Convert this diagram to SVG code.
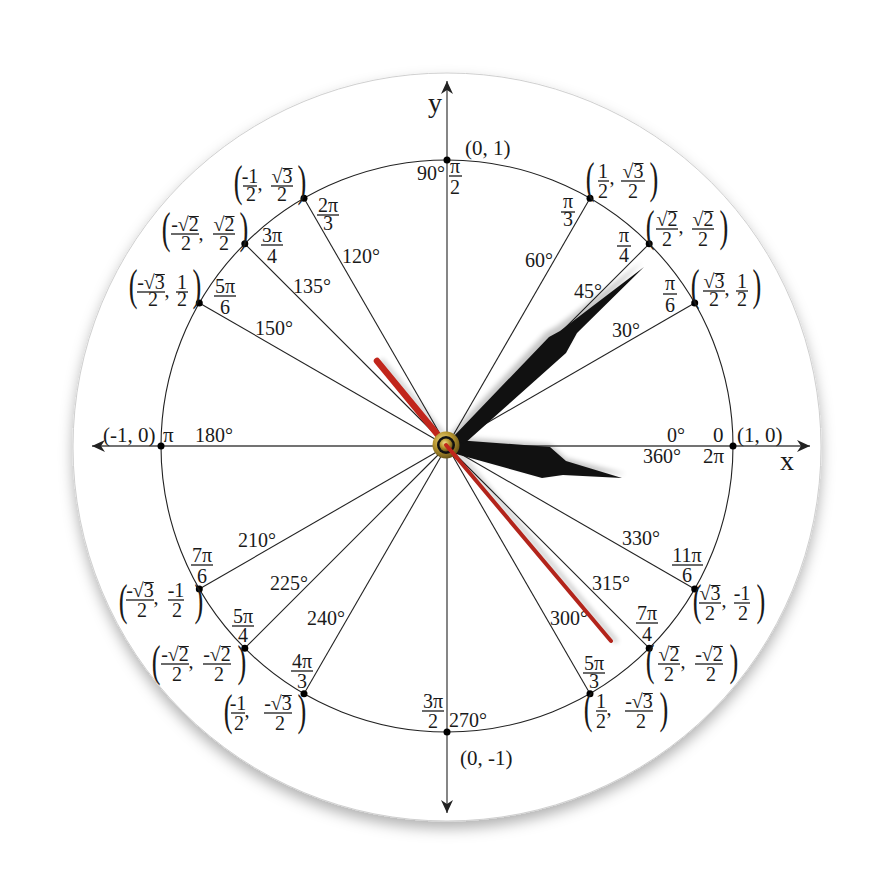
<svg xmlns="http://www.w3.org/2000/svg" width="894" height="894" viewBox="0 0 894 894">
<defs>
<style>
text{font-family:"Liberation Serif","Times New Roman",serif;fill:#1a1a1a}
.d{font-size:20px}
.c{font-size:21px}
.xy{font-size:28px}
.f{font-size:20px;text-anchor:middle}
.p{font-size:44px}
.b{stroke:#1a1a1a;stroke-width:1.3}
.v{stroke:#1a1a1a;stroke-width:1}
.r{stroke:#222;stroke-width:1.1;fill:none}
.ax{stroke:#444;stroke-width:1.3}
.dot{fill:#000}
</style>
<marker id="arr" viewBox="-14 -7 16 14" refX="0" refY="0" markerWidth="16" markerHeight="14" markerUnits="userSpaceOnUse" orient="auto-start-reverse"><path d="M0,0 L-13,-6 L-9,0 L-13,6 Z" fill="#222"/></marker>
<filter id="sh" x="-10%" y="-10%" width="120%" height="125%"><feDropShadow dx="0" dy="7" stdDeviation="7" flood-color="#000" flood-opacity="0.3"/></filter>
<filter id="hs" x="-20%" y="-20%" width="140%" height="140%"><feGaussianBlur stdDeviation="2.5"/></filter>
<radialGradient id="gold" cx="40%" cy="35%" r="70%"><stop offset="0" stop-color="#f1dc8a"/><stop offset="0.5" stop-color="#b8962f"/><stop offset="1" stop-color="#5c4a14"/></radialGradient>
</defs>
<rect width="894" height="894" fill="#fff"/>
<g id="face"><circle cx="447" cy="447" r="374" fill="#fff" stroke="#d0d0d0" stroke-width="1" filter="url(#sh)"/></g>
<g id="connectors">
<circle class="r" cx="447" cy="446" r="286"/>
<line class="r" x1="447" y1="446" x2="694.7" y2="303"/>
<line class="r" x1="447" y1="446" x2="649.2" y2="243.8"/>
<line class="r" x1="447" y1="446" x2="590" y2="198.3"/>
<line class="r" x1="447" y1="446" x2="304" y2="198.3"/>
<line class="r" x1="447" y1="446" x2="244.8" y2="243.8"/>
<line class="r" x1="447" y1="446" x2="199.3" y2="303"/>
<line class="r" x1="447" y1="446" x2="199.3" y2="589"/>
<line class="r" x1="447" y1="446" x2="244.8" y2="648.2"/>
<line class="r" x1="447" y1="446" x2="304" y2="693.7"/>
<line class="r" x1="447" y1="446" x2="590" y2="693.7"/>
<line class="r" x1="447" y1="446" x2="649.2" y2="648.2"/>
<line class="r" x1="447" y1="446" x2="694.7" y2="589"/>
<line class="ax" x1="92" y1="446" x2="810" y2="446" marker-start="url(#arr)" marker-end="url(#arr)"/>
<line class="ax" x1="447" y1="81" x2="447" y2="813" marker-start="url(#arr)" marker-end="url(#arr)"/>
</g>
<g id="axis-labels">
<text class="xy" x="780" y="470">x</text>
<text class="xy" x="428" y="112">y</text>
</g>
<g id="p0">
<circle class="dot" cx="733" cy="446" r="3.5"/>
<text class="d" x="667" y="442">0°</text>
<text class="d" x="643" y="463">360°</text>
<text class="c" x="713" y="442">0</text>
<text class="c" x="703" y="463">2π</text>
<text class="c" x="737" y="442">(1, 0)</text>
</g>
<g id="p30">
<circle class="dot" cx="694.7" cy="303" r="3.5"/>
<text class="d" x="612" y="337">30°</text>
<text class="f" x="670" y="290">π</text><line class="b" x1="663" y1="294" x2="677" y2="294"/><text class="f" x="670" y="312">6</text>
<text class="p" transform="translate(690.7,300) scale(0.6,1)">(</text>
<text class="f" x="714" y="288">√3</text><line class="v" x1="714.5" y1="273.5" x2="724.5" y2="273.5"/><line class="b" x1="703" y1="291" x2="725" y2="291"/><text class="f" x="714" y="306">2</text>
<text class="f" x="727" y="295">,</text>
<text class="f" x="742" y="288">1</text><line class="b" x1="736" y1="291" x2="748" y2="291"/><text class="f" x="742" y="306">2</text>
<text class="p" transform="translate(752.5,300) scale(0.6,1)">)</text>
</g>
<g id="p45">
<circle class="dot" cx="649.2" cy="243.8" r="3.5"/>
<text class="d" x="574" y="298">45°</text>
<text class="f" x="624" y="242">π</text><line class="b" x1="617" y1="246" x2="631" y2="246"/><text class="f" x="624" y="262">4</text>
<text class="p" transform="translate(645.7,241) scale(0.6,1)">(</text>
<text class="f" x="667" y="226">√2</text><line class="v" x1="667.5" y1="211.5" x2="677.5" y2="211.5"/><line class="b" x1="656" y1="229" x2="678" y2="229"/><text class="f" x="667" y="246">2</text>
<text class="f" x="681" y="233">,</text>
<text class="f" x="703" y="226">√2</text><line class="v" x1="703.5" y1="211.5" x2="713.5" y2="211.5"/><line class="b" x1="692" y1="229" x2="714" y2="229"/><text class="f" x="703" y="246">2</text>
<text class="p" transform="translate(719.5,241) scale(0.6,1)">)</text>
</g>
<g id="p60">
<circle class="dot" cx="590" cy="198.3" r="3.5"/>
<text class="d" x="525" y="267">60°</text>
<text class="f" x="568" y="208">π</text><line class="b" x1="561" y1="212" x2="575" y2="212"/><text class="f" x="568" y="226">3</text>
<text class="p" transform="translate(585.7,193) scale(0.6,1)">(</text>
<text class="f" x="603" y="178">1</text><line class="b" x1="598" y1="181" x2="609" y2="181"/><text class="f" x="603" y="198">2</text>
<text class="f" x="612" y="184">,</text>
<text class="f" x="633" y="178">√3</text><line class="v" x1="633.5" y1="163.5" x2="643.5" y2="163.5"/><line class="b" x1="621" y1="181" x2="645" y2="181"/><text class="f" x="633" y="198">2</text>
<text class="p" transform="translate(649.5,193) scale(0.6,1)">)</text>
</g>
<g id="p90">
<circle class="dot" cx="447" cy="160" r="3.5"/>
<text class="d" x="417" y="180">90°</text>
<text class="f" x="455" y="173">π</text><line class="b" x1="449" y1="176" x2="462" y2="176"/><text class="f" x="455" y="194">2</text>
<text class="c" x="465" y="155">(0, 1)</text>
</g>
<g id="p120">
<circle class="dot" cx="304" cy="198.3" r="3.5"/>
<text class="d" x="342" y="263">120°</text>
<text class="f" x="328" y="212">2π</text><line class="b" x1="317" y1="215" x2="339" y2="215"/><text class="f" x="328" y="230">3</text>
<text class="p" transform="translate(233.7,196) scale(0.6,1)">(</text>
<text class="f" x="250" y="183">-1</text><line class="b" x1="243" y1="186" x2="257" y2="186"/><text class="f" x="251" y="201">2</text>
<text class="f" x="260" y="190">,</text>
<text class="f" x="282" y="183">√3</text><line class="v" x1="282.5" y1="168.5" x2="292.5" y2="168.5"/><line class="b" x1="271" y1="186" x2="293" y2="186"/><text class="f" x="282" y="201">2</text>
<text class="p" transform="translate(297.5,196) scale(0.6,1)">)</text>
</g>
<g id="p135">
<circle class="dot" cx="244.8" cy="243.8" r="3.5"/>
<text class="d" x="293" y="293">135°</text>
<text class="f" x="272" y="242">3π</text><line class="b" x1="261" y1="245" x2="283" y2="245"/><text class="f" x="272" y="263">4</text>
<text class="p" transform="translate(161.7,243) scale(0.6,1)">(</text>
<text class="f" x="185" y="231">-√2</text><line class="v" x1="188.8" y1="216.5" x2="198.8" y2="216.5"/><line class="b" x1="171" y1="234" x2="199" y2="234"/><text class="f" x="186" y="250">2</text>
<text class="f" x="201" y="240">,</text>
<text class="f" x="224" y="231">√2</text><line class="v" x1="224.5" y1="216.5" x2="234.5" y2="216.5"/><line class="b" x1="213" y1="234" x2="235" y2="234"/><text class="f" x="224" y="250">2</text>
<text class="p" transform="translate(239.5,243) scale(0.6,1)">)</text>
</g>
<g id="p150">
<circle class="dot" cx="199.3" cy="303" r="3.5"/>
<text class="d" x="255" y="335">150°</text>
<text class="f" x="225" y="293">5π</text><line class="b" x1="214" y1="296" x2="236" y2="296"/><text class="f" x="225" y="314">6</text>
<text class="p" transform="translate(128.7,300) scale(0.6,1)">(</text>
<text class="f" x="151" y="289">-√3</text><line class="v" x1="154.8" y1="274.5" x2="164.8" y2="274.5"/><line class="b" x1="137" y1="292" x2="165" y2="292"/><text class="f" x="153" y="306">2</text>
<text class="f" x="167" y="297">,</text>
<text class="f" x="182" y="289">1</text><line class="b" x1="176" y1="292" x2="188" y2="292"/><text class="f" x="182" y="306">2</text>
<text class="p" transform="translate(192.5,300) scale(0.6,1)">)</text>
</g>
<g id="p180">
<circle class="dot" cx="161" cy="446" r="3.5"/>
<text class="d" x="195" y="442">180°</text>
<text class="c" x="163" y="442">π</text>
<text class="c" x="103" y="442">(-1, 0)</text>
</g>
<g id="p210">
<circle class="dot" cx="199.3" cy="589" r="3.5"/>
<text class="d" x="238" y="547">210°</text>
<text class="f" x="202" y="562">7π</text><line class="b" x1="191" y1="565" x2="213" y2="565"/><text class="f" x="202" y="583">6</text>
<text class="p" transform="translate(118.7,615) scale(0.6,1)">(</text>
<text class="f" x="140" y="597">-√3</text><line class="v" x1="143.8" y1="582.5" x2="153.8" y2="582.5"/><line class="b" x1="126" y1="600" x2="154" y2="600"/><text class="f" x="142" y="617">2</text>
<text class="f" x="156" y="604">,</text>
<text class="f" x="176" y="597">-1</text><line class="b" x1="168" y1="600" x2="184" y2="600"/><text class="f" x="177" y="617">2</text>
<text class="p" transform="translate(194.5,615) scale(0.6,1)">)</text>
</g>
<g id="p225">
<circle class="dot" cx="244.8" cy="648.2" r="3.5"/>
<text class="d" x="270" y="590">225°</text>
<text class="f" x="243" y="623">5π</text><line class="b" x1="232" y1="626" x2="254" y2="626"/><text class="f" x="243" y="642">4</text>
<text class="p" transform="translate(151.7,676) scale(0.6,1)">(</text>
<text class="f" x="175" y="661">-√2</text><line class="v" x1="178.8" y1="646.5" x2="188.8" y2="646.5"/><line class="b" x1="161" y1="664" x2="189" y2="664"/><text class="f" x="177" y="681">2</text>
<text class="f" x="191" y="668">,</text>
<text class="f" x="217" y="661">-√2</text><line class="v" x1="220.8" y1="646.5" x2="230.8" y2="646.5"/><line class="b" x1="203" y1="664" x2="231" y2="664"/><text class="f" x="219" y="681">2</text>
<text class="p" transform="translate(237.5,676) scale(0.6,1)">)</text>
</g>
<g id="p240">
<circle class="dot" cx="304" cy="693.7" r="3.5"/>
<text class="d" x="307" y="625">240°</text>
<text class="f" x="302" y="668">4π</text><line class="b" x1="291" y1="671" x2="313" y2="671"/><text class="f" x="302" y="688">3</text>
<text class="p" transform="translate(223.7,725) scale(0.6,1)">(</text>
<text class="f" x="238" y="710">-1</text><line class="b" x1="231" y1="713" x2="245" y2="713"/><text class="f" x="239" y="730">2</text>
<text class="f" x="247" y="717">,</text>
<text class="f" x="278" y="710">-√3</text><line class="v" x1="281.8" y1="695.5" x2="291.8" y2="695.5"/><line class="b" x1="264" y1="713" x2="292" y2="713"/><text class="f" x="280" y="730">2</text>
<text class="p" transform="translate(297.5,725) scale(0.6,1)">)</text>
</g>
<g id="p270">
<circle class="dot" cx="447" cy="732" r="3.5"/>
<text class="d" x="449" y="727">270°</text>
<text class="f" x="433" y="708">3π</text><line class="b" x1="422" y1="711" x2="444" y2="711"/><text class="f" x="433" y="728">2</text>
<text class="c" x="460" y="765">(0, -1)</text>
</g>
<g id="p300">
<circle class="dot" cx="590" cy="693.7" r="3.5"/>
<text class="d" x="550" y="625">300°</text>
<text class="f" x="594" y="670">5π</text><line class="b" x1="583" y1="673" x2="605" y2="673"/><text class="f" x="594" y="688">3</text>
<text class="p" transform="translate(583.7,723) scale(0.6,1)">(</text>
<text class="f" x="601" y="708">1</text><line class="b" x1="596" y1="711" x2="607" y2="711"/><text class="f" x="601" y="728">2</text>
<text class="f" x="609" y="715">,</text>
<text class="f" x="639" y="708">-√3</text><line class="v" x1="642.8" y1="693.5" x2="652.8" y2="693.5"/><line class="b" x1="625" y1="711" x2="653" y2="711"/><text class="f" x="641" y="728">2</text>
<text class="p" transform="translate(659.5,723) scale(0.6,1)">)</text>
</g>
<g id="p315">
<circle class="dot" cx="649.2" cy="648.2" r="3.5"/>
<text class="d" x="592" y="590">315°</text>
<text class="f" x="647" y="620">7π</text><line class="b" x1="636" y1="623" x2="658" y2="623"/><text class="f" x="647" y="641">4</text>
<text class="p" transform="translate(645.7,675) scale(0.6,1)">(</text>
<text class="f" x="669" y="661">√2</text><line class="v" x1="669.5" y1="646.5" x2="679.5" y2="646.5"/><line class="b" x1="658" y1="664" x2="680" y2="664"/><text class="f" x="669" y="681">2</text>
<text class="f" x="683" y="668">,</text>
<text class="f" x="709" y="661">-√2</text><line class="v" x1="712.8" y1="646.5" x2="722.8" y2="646.5"/><line class="b" x1="695" y1="664" x2="723" y2="664"/><text class="f" x="711" y="681">2</text>
<text class="p" transform="translate(729.5,675) scale(0.6,1)">)</text>
</g>
<g id="p330">
<circle class="dot" cx="694.7" cy="589" r="3.5"/>
<text class="d" x="622" y="545">330°</text>
<text class="f" x="687" y="562">11π</text><line class="b" x1="672" y1="565" x2="703" y2="565"/><text class="f" x="687" y="582">6</text>
<text class="p" transform="translate(692.7,615) scale(0.6,1)">(</text>
<text class="f" x="710" y="600">√3</text><line class="v" x1="710.5" y1="585.5" x2="720.5" y2="585.5"/><line class="b" x1="699" y1="603" x2="721" y2="603"/><text class="f" x="710" y="620">2</text>
<text class="f" x="724" y="607">,</text>
<text class="f" x="742" y="600">-1</text><line class="b" x1="734" y1="603" x2="750" y2="603"/><text class="f" x="743" y="620">2</text>
<text class="p" transform="translate(756.5,615) scale(0.6,1)">)</text>
</g>
<g id="hands">
<g filter="url(#hs)" opacity="0.22">
<polygon points="456,437 550,444 566,458 626,474 563,472 542,475 456,451"/>
<polygon points="449,435 546,332 557,326 642,262 577,328 566,347 461,441"/>
<line x1="382" y1="361" x2="616" y2="641" stroke="#000" stroke-width="4" stroke-linecap="round"/>
</g>
<polygon points="456,440 550,447 566,461 622,478 563,475 542,478 456,454" fill="#111"/>
<polygon points="452,438 549,337 560,331 644,267 577,333 566,353 464,444" fill="#111"/>
<line x1="447" y1="446" x2="611" y2="641" stroke="#b3241b" stroke-width="4" stroke-linecap="round"/>
<line x1="447" y1="446" x2="377" y2="361" stroke="#c1261c" stroke-width="6.5" stroke-linecap="round"/>
<circle cx="446" cy="445" r="13.5" fill="url(#gold)"/>
<circle cx="446" cy="445" r="9" fill="#111"/>
<circle cx="446" cy="445" r="6.5" fill="url(#gold)"/>
<line x1="446" y1="445" x2="457" y2="458" stroke="#c1261c" stroke-width="4" stroke-linecap="round"/>
</g>
</svg>
